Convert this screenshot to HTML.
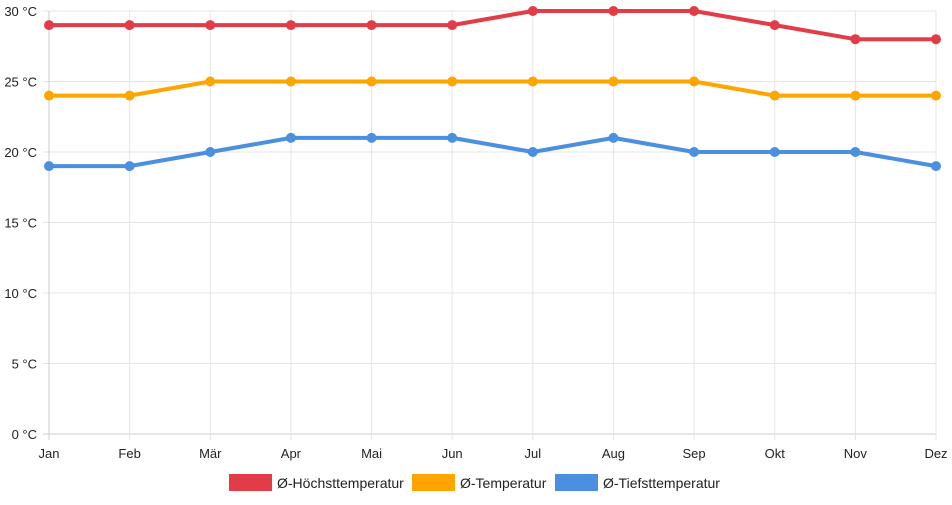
<!DOCTYPE html>
<html><head><meta charset="utf-8"><style>
body{margin:0;background:#fff;font-family:"Liberation Sans",sans-serif}
svg text{font-family:"Liberation Sans",sans-serif;fill:#222}
</style></head><body>
<svg width="952" height="500" xmlns="http://www.w3.org/2000/svg" id="chart"></svg>
<script>
const months=["Jan","Feb","Mär","Apr","Mai","Jun","Jul","Aug","Sep","Okt","Nov","Dez"];
const maxTemp=[29,29,29,29,29,29,30,30,30,29,28,28];
const avgTemp=[24,24,25,25,25,25,25,25,25,24,24,24];
const minTemp=[19,19,20,21,21,21,20,21,20,20,20,19];
const yTicks=[0,5,10,15,20,25,30];
const seriesNames=["Ø-Höchsttemperatur","Ø-Temperatur","Ø-Tiefsttemperatur"];
const NS="http://www.w3.org/2000/svg";
const svg=document.getElementById('chart');
const x0=49,x1=936,yTop=11,yBot=434;
const xs=i=>x0+(x1-x0)*i/(months.length-1);
const ys=v=>yBot-(yBot-yTop)*v/30;
function mk(t,a){const e=document.createElementNS(NS,t);for(const k in a)e.setAttribute(k,a[k]);svg.appendChild(e);return e;}
yTicks.forEach(v=>{
  const l=mk('line',{x1:x0-6,x2:x1,y1:ys(v),y2:ys(v),stroke:v===0?'#ccc':'#e5e5e5','stroke-width':1});
  
  
  const t=mk('text',{x:37,y:ys(v)+5,'text-anchor':'end','font-size':13});
  t.textContent=v+' °C';
  
  
});
months.forEach((m,i)=>{
  const l=mk('line',{x1:xs(i),x2:xs(i),y1:yTop,y2:yBot+6,stroke:i===0?'#ccc':'#e5e5e5','stroke-width':1});
  
  
  const t=mk('text',{x:xs(i),y:458,'text-anchor':'middle','font-size':13});
  t.textContent=m;
  
  
});
const series=[[maxTemp,'#e23c48','max-temp'],[avgTemp,'#fea500','avg-temp'],[minTemp,'#4a8fe0','min-temp']];
series.forEach(([d,c,n])=>{
  const p=mk('polyline',{points:d.map((v,i)=>xs(i)+','+ys(v)).join(' '),fill:'none',stroke:c,'stroke-width':4,'stroke-linejoin':'round'});
  
  
  d.forEach((v,i)=>{
    const ci=mk('circle',{cx:xs(i),cy:ys(v),r:5,fill:c});
    
    
  });
});
const lx=[229,412,555];
series.forEach(([d,c,n],k)=>{
  const r=mk('rect',{x:lx[k],y:474,width:43,height:17,fill:c});
  
  
  const t=mk('text',{x:lx[k]+48,y:488,'font-size':14});
  t.textContent=seriesNames[k];
  
  
});
</script>
</body></html>
